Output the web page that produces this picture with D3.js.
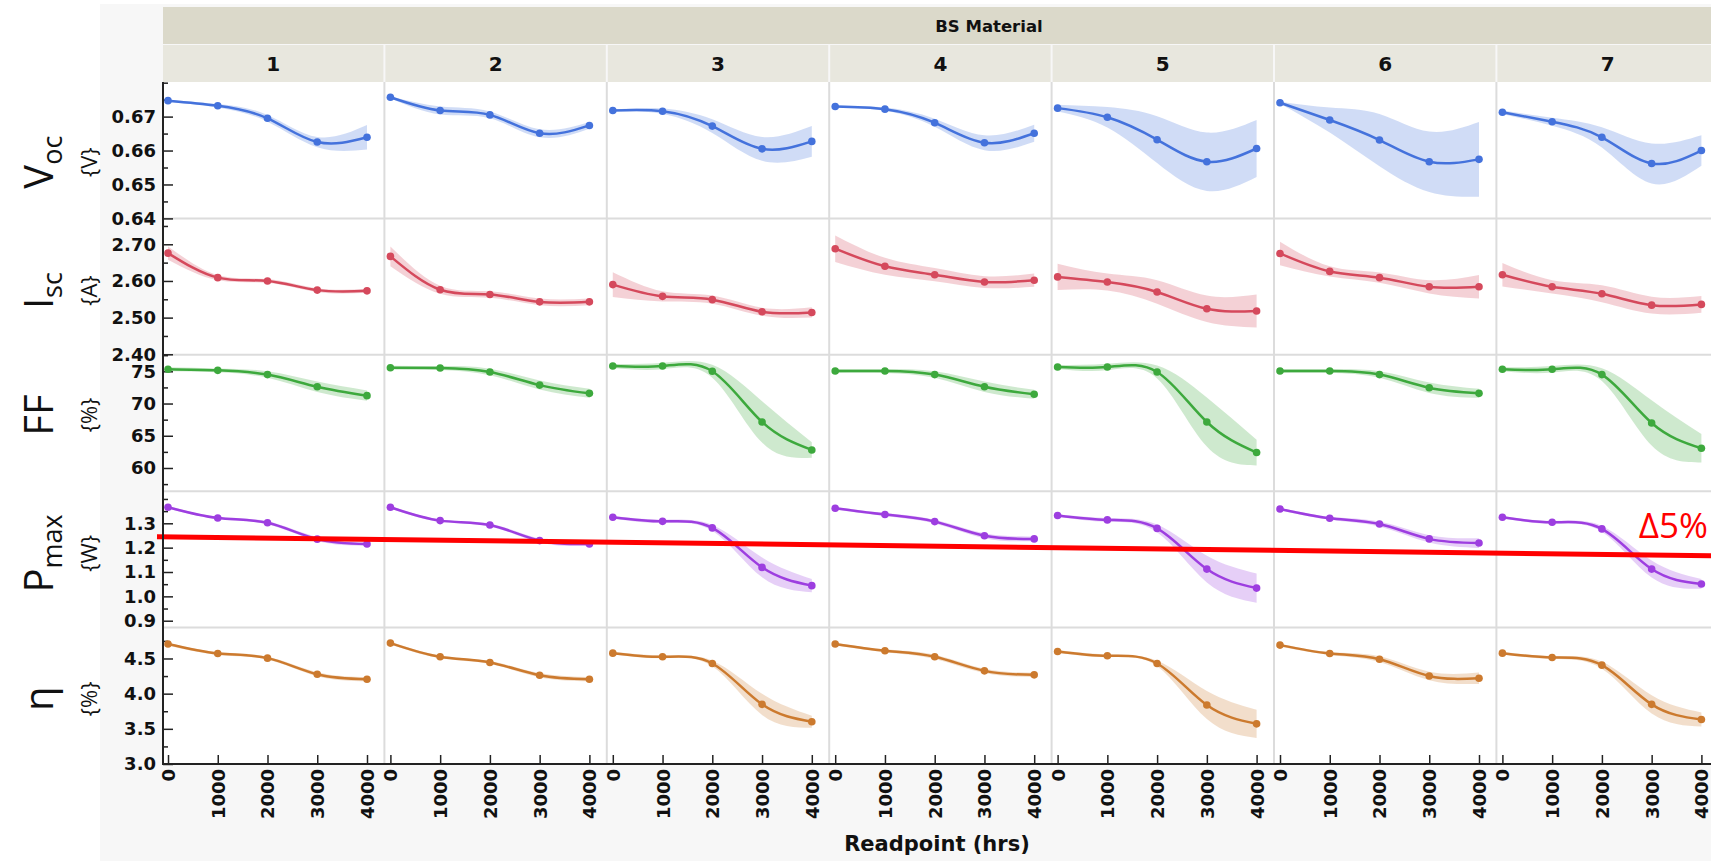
<!DOCTYPE html>
<html>
<head>
<meta charset="utf-8">
<script src="https://cdn.jsdelivr.net/npm/d3@7"></script>
<style>
  body { margin: 0; background: #fff; }
  svg { display: block; }
  .tick text { font-family: "DejaVu Sans", sans-serif; font-weight: bold; font-size: 18px; fill: #111; }
</style>
</head>
<body>
<svg id="chart"></svg>
<script>
// facet columns and x readpoints
const materials = ['1', '2', '3', '4', '5', '6', '7'];
const readpoints = [0, 1000, 2000, 3000, 4000];

// Voc {V}: mean per material, and half width of the shaded band
const vocMean = [
  [0.6747, 0.6732, 0.6695, 0.6625, 0.6639],
  [0.6757, 0.6718, 0.6705, 0.6651, 0.6674],
  [0.6718, 0.6716, 0.6672, 0.6605, 0.6627],
  [0.6730, 0.6722, 0.6682, 0.6623, 0.6651],
  [0.6725, 0.6698, 0.6632, 0.6567, 0.6606],
  [0.6741, 0.6690, 0.6631, 0.6567, 0.6574],
  [0.6713, 0.6685, 0.6639, 0.6562, 0.6600]
];
const vocCI = [
  [0.0003, 0.0005, 0.0010, 0.0015, 0.0036],
  [0.0003, 0.0012, 0.0010, 0.0012, 0.0010],
  [0.0003, 0.0008, 0.0020, 0.0035, 0.0045],
  [0.0003, 0.0005, 0.0012, 0.0022, 0.0025],
  [0.0010, 0.0030, 0.0069, 0.0086, 0.0084],
  [0.0003, 0.0037, 0.0077, 0.0089, 0.0110],
  [0.0005, 0.0012, 0.0030, 0.0059, 0.0045]
];

// Isc {A}
const iscMean = [
  [2.676, 2.609, 2.600, 2.575, 2.573],
  [2.667, 2.576, 2.563, 2.543, 2.543],
  [2.590, 2.558, 2.549, 2.516, 2.514],
  [2.688, 2.640, 2.617, 2.597, 2.602],
  [2.611, 2.597, 2.570, 2.524, 2.518],
  [2.675, 2.626, 2.609, 2.584, 2.584],
  [2.617, 2.584, 2.565, 2.534, 2.536]
];
const iscCI = [
  [0.018, 0.007, 0.005, 0.005, 0.005],
  [0.027, 0.011, 0.009, 0.009, 0.009],
  [0.034, 0.014, 0.011, 0.011, 0.014],
  [0.036, 0.023, 0.018, 0.016, 0.018],
  [0.036, 0.023, 0.032, 0.036, 0.045],
  [0.032, 0.014, 0.014, 0.018, 0.032],
  [0.032, 0.018, 0.023, 0.023, 0.023]
];

// FF {%}
const ffMean = [
  [75.31, 75.15, 74.49, 72.60, 71.22],
  [75.56, 75.51, 74.90, 72.86, 71.58],
  [75.82, 75.82, 75.00, 67.14, 62.80],
  [75.05, 75.05, 74.49, 72.60, 71.43],
  [75.66, 75.66, 74.90, 67.14, 62.40],
  [75.05, 75.05, 74.49, 72.45, 71.58],
  [75.31, 75.31, 74.49, 66.99, 63.06]
];
const ffCI = [
  [0.3, 0.3, 0.5, 0.8, 0.8],
  [0.3, 0.3, 0.5, 0.7, 0.7],
  [0.3, 0.5, 1.0, 3.2, 1.2],
  [0.3, 0.3, 0.5, 0.8, 0.7],
  [0.3, 0.5, 1.0, 3.8, 2.0],
  [0.3, 0.3, 0.5, 0.8, 0.7],
  [0.3, 0.5, 1.0, 3.5, 2.2]
];

// Pmax {W}
const pmaxMean = [
  [1.366, 1.322, 1.302, 1.235, 1.215],
  [1.366, 1.311, 1.293, 1.229, 1.215],
  [1.325, 1.308, 1.281, 1.119, 1.044],
  [1.362, 1.336, 1.307, 1.249, 1.236],
  [1.332, 1.314, 1.279, 1.112, 1.034],
  [1.359, 1.321, 1.297, 1.236, 1.219],
  [1.325, 1.304, 1.277, 1.112, 1.051]
];
const pmaxCI = [
  [0.005, 0.005, 0.006, 0.008, 0.008],
  [0.005, 0.005, 0.006, 0.008, 0.008],
  [0.005, 0.007, 0.012, 0.041, 0.027],
  [0.005, 0.006, 0.008, 0.010, 0.010],
  [0.005, 0.008, 0.016, 0.055, 0.060],
  [0.005, 0.006, 0.010, 0.015, 0.020],
  [0.005, 0.006, 0.012, 0.035, 0.020]
];

// eta {%}
const etaMean = [
  [4.705, 4.571, 4.505, 4.276, 4.205],
  [4.719, 4.524, 4.443, 4.262, 4.205],
  [4.576, 4.524, 4.429, 3.848, 3.600],
  [4.705, 4.610, 4.524, 4.324, 4.267],
  [4.600, 4.538, 4.429, 3.838, 3.571],
  [4.690, 4.571, 4.490, 4.252, 4.219],
  [4.576, 4.514, 4.405, 3.848, 3.633]
];
const etaCI = [
  [0.02, 0.02, 0.02, 0.03, 0.03],
  [0.02, 0.02, 0.02, 0.03, 0.03],
  [0.02, 0.02, 0.04, 0.15, 0.085],
  [0.02, 0.02, 0.03, 0.03, 0.03],
  [0.02, 0.02, 0.04, 0.20, 0.20],
  [0.02, 0.02, 0.04, 0.06, 0.08],
  [0.02, 0.02, 0.05, 0.13, 0.10]
];

// the hand drawn delta 5% line, in Pmax units at its left and right ends
const deltaLine = [1.245, 1.167];
const deltaLabel = '\u03945%';

const metrics = [
  { key: 'voc', name: 'V', sub: 'oc', unit: '{V}', mean: vocMean, ci: vocCI, color: '#4472dc',
    domain: [0.64, 0.6802], ticks: [0.64, 0.65, 0.66, 0.67], minor: 0.005, fmt: '.2f' },
  { key: 'isc', name: 'I', sub: 'sc', unit: '{A}', mean: iscMean, ci: iscCI, color: '#d5495c',
    domain: [2.3986, 2.7706], ticks: [2.4, 2.5, 2.6, 2.7], minor: 0.05, fmt: '.2f' },
  { key: 'ff', name: 'FF', sub: '', unit: '{%}', mean: ffMean, ci: ffCI, color: '#3da93d',
    domain: [56.4, 77.56], ticks: [60, 65, 70, 75], minor: 2.5, fmt: 'd' },
  { key: 'pmax', name: 'P', sub: 'max', unit: '{W}', mean: pmaxMean, ci: pmaxCI, color: '#9d3ee0',
    domain: [0.8717, 1.4318], ticks: [0.9, 1.0, 1.1, 1.2, 1.3], minor: 0.05, fmt: '.1f' },
  { key: 'eta', name: '\u03b7', sub: '', unit: '{%}', mean: etaMean, ci: etaCI, color: '#cc7a2e',
    domain: [3.0, 4.939], ticks: [3.0, 3.5, 4.0, 4.5], minor: 0.25, fmt: '.1f' }
];

const W = 1711, H = 861;
const plotLeft = 163, plotTop = 82, plotBottom = 764, panelW = 222.4;
const labelShift = [12, 4, -8, -6, 3];

const svg = d3.select('#chart').attr('width', W).attr('height', H);

svg.append('rect').attr('x', 100).attr('y', 4).attr('width', W - 100).attr('height', H - 4).attr('fill', '#f7f7f7');
svg.append('rect').attr('x', plotLeft).attr('y', plotTop).attr('width', W - plotLeft)
  .attr('height', plotBottom - plotTop).attr('fill', '#fff');

const xBand = d3.scaleBand().domain(materials).range([plotLeft, plotLeft + panelW * materials.length]);
const xIn = d3.scaleLinear().domain([0, 4000]).range([5, 204]);
const rowBand = d3.scaleBand().domain(metrics.map(m => m.key)).range([plotTop, plotBottom]);

// header bands
svg.append('rect').attr('x', plotLeft).attr('y', 7).attr('width', W - plotLeft).attr('height', 37).attr('fill', '#dbd9ca');
svg.append('text').attr('x', 989).attr('y', 32).attr('text-anchor', 'middle')
  .style('font-family', '"DejaVu Sans", sans-serif').style('font-weight', 'bold').style('font-size', '16.5px')
  .attr('fill', '#111').text('BS Material');

const sub = svg.selectAll('g.subhead').data(materials).enter().append('g').attr('class', 'subhead')
  .attr('transform', d => `translate(${xBand(d)},45)`);
sub.append('rect').attr('x', 0).attr('width', panelW - 2).attr('height', 37).attr('fill', '#e8e7de');
sub.append('text').attr('x', (panelW - 2) / 2).attr('y', 26).attr('text-anchor', 'middle')
  .style('font-family', '"DejaVu Sans", sans-serif').style('font-weight', 'bold').style('font-size', '20px')
  .attr('fill', '#111').text(d => d);

// grid separators
materials.slice(1).forEach(m => {
  svg.append('line').attr('x1', xBand(m) - 1).attr('x2', xBand(m) - 1).attr('y1', plotTop).attr('y2', plotBottom)
    .attr('stroke', '#dcdcdc').attr('stroke-width', 2);
});
metrics.slice(1).forEach(m => {
  svg.append('line').attr('x1', plotLeft).attr('x2', W).attr('y1', rowBand(m.key)).attr('y2', rowBand(m.key))
    .attr('stroke', '#dcdcdc').attr('stroke-width', 2);
});

metrics.forEach((m, mi) => {
  const top = rowBand(m.key), h = rowBand.bandwidth();
  const y = d3.scaleLinear().domain(m.domain).range([top + h, top]);

  // left axis, ticks pointing inward
  const minor = d3.range(Math.ceil(m.domain[0] / m.minor - 1e-6) * m.minor, m.domain[1] + 1e-9, m.minor)
    .filter(v => !m.ticks.some(t => Math.abs(t - v) < 1e-9));
  svg.append('g').attr('transform', `translate(${plotLeft},0)`)
    .call(d3.axisLeft(y).tickValues(minor).tickSize(-5).tickFormat(''))
    .call(g => g.select('.domain').remove())
    .call(g => g.selectAll('line').attr('stroke', '#222').attr('stroke-width', 1.5));
  svg.append('g').attr('transform', `translate(${plotLeft},0)`)
    .call(d3.axisLeft(y).tickValues(m.ticks).tickSize(-10).tickPadding(7).tickFormat(d3.format(m.fmt)))
    .call(g => g.select('.domain').remove())
    .call(g => g.selectAll('line').attr('stroke', '#222').attr('stroke-width', 1.5));

  // row labels
  const cy = top + h / 2 + labelShift[mi];
  const lab = svg.append('text').attr('transform', `translate(53,${cy}) rotate(-90)`).attr('text-anchor', 'middle')
    .style('font-family', '"Open Sans", sans-serif').attr('fill', '#111');
  lab.append('tspan').style('font-size', '40px').text(m.name);
  if (m.sub) lab.append('tspan').style('font-size', '27px').attr('dy', '0.33em').text(m.sub);
  svg.append('text').attr('transform', `translate(97,${cy}) rotate(-90)`)
    .attr('text-anchor', 'middle').style('font-family', '"Open Sans", sans-serif').style('font-size', '22px')
    .attr('fill', '#111').text(m.unit);

  const band = d3.area().x(d => d.x).y0(d => y(d.v - d.ci)).y1(d => y(d.v + d.ci)).curve(d3.curveNatural);
  const line = d3.line().x(d => d.x).y(d => y(d.v)).curve(d3.curveNatural);

  materials.forEach((mat, pi) => {
    const pts = readpoints.map((r, i) => ({ x: xBand(mat) + xIn(r), v: m.mean[pi][i], ci: m.ci[pi][i] }));
    const g = svg.append('g');
    g.append('path').attr('d', band(pts)).attr('fill', m.color).attr('fill-opacity', 0.25);
    g.append('path').attr('d', line(pts)).attr('fill', 'none').attr('stroke', m.color).attr('stroke-width', 2.5);
    g.selectAll('circle').data(pts).enter().append('circle')
      .attr('cx', d => d.x).attr('cy', d => y(d.v)).attr('r', 3.8).attr('fill', m.color);
  });

  if (m.key === 'pmax') {
    svg.append('line').attr('x1', 157).attr('x2', W).attr('y1', y(deltaLine[0])).attr('y2', y(deltaLine[1]))
      .attr('stroke', '#ff0000').attr('stroke-width', 5);
    svg.append('text').attr('x', 1708).attr('y', 538).attr('text-anchor', 'end')
      .style('font-family', '"Open Sans", sans-serif').style('font-size', '35px').attr('fill', '#ff0000').text(deltaLabel);
  }
});

// x axes
materials.forEach(mat => {
  svg.append('g').attr('transform', `translate(${xBand(mat)},${plotBottom})`)
    .call(d3.axisBottom(xIn).tickValues(readpoints).tickSize(-9).tickFormat(d3.format('d')))
    .call(g => g.select('.domain').remove())
    .call(g => g.selectAll('line').attr('stroke', '#222').attr('stroke-width', 1.5))
    .call(g => g.selectAll('text').attr('transform', 'rotate(-90)').attr('text-anchor', 'end')
      .attr('x', -5).attr('y', 0).attr('dy', '0.36em'));
});

svg.append('line').attr('x1', plotLeft).attr('x2', plotLeft).attr('y1', plotTop).attr('y2', plotBottom + 1)
  .attr('stroke', '#222').attr('stroke-width', 2);
svg.append('line').attr('x1', plotLeft).attr('x2', W).attr('y1', plotBottom).attr('y2', plotBottom)
  .attr('stroke', '#222').attr('stroke-width', 2);

svg.append('text').attr('x', 937).attr('y', 851).attr('text-anchor', 'middle')
  .style('font-family', '"DejaVu Sans", sans-serif').style('font-weight', 'bold').style('font-size', '21px')
  .attr('fill', '#111').text('Readpoint (hrs)');
</script>
</body>
</html>
